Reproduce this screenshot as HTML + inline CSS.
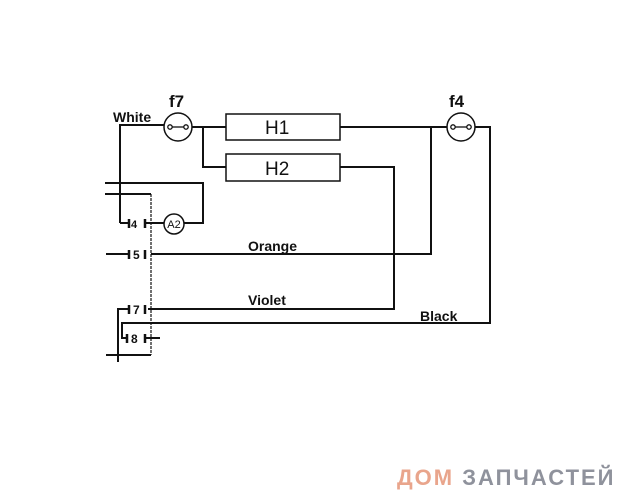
<!DOCTYPE html>
<html><head><meta charset="utf-8"><style>
html,body{margin:0;padding:0;background:#fff;}
svg{display:block;}
text{font-family:"Liberation Sans",Arial,sans-serif;fill:#111;}
</style></head><body>
<svg width="625" height="500" viewBox="0 0 625 500" xmlns="http://www.w3.org/2000/svg">
<g stroke="#111" stroke-width="2" fill="none">
<polyline points="120,223 120,125 164,125"/>
<circle cx="178" cy="127" r="14" stroke-width="1.5"/>
<line x1="192" y1="127" x2="226" y2="127"/>
<polyline points="203,127 203,167 226,167"/>
<rect x="226" y="114" width="114" height="26" stroke-width="1.5"/>
<rect x="226" y="154" width="114" height="27" stroke-width="1.5"/>
<line x1="340" y1="127" x2="447" y2="127"/>
<circle cx="461" cy="127" r="14" stroke-width="1.5"/>
<polyline points="475,127 490,127 490,323 122,323 122,338 128,338"/>
<polyline points="431,127 431,254 151,254"/>
<polyline points="340,167 394,167 394,309 148,309"/>
<polyline points="105,183 203,183 203,223 184,223"/>
<polyline points="105,194 151,194"/>
<line x1="151" y1="194" x2="151" y2="355" stroke-width="1.2" stroke-dasharray="3,1"/>
<line x1="106" y1="355" x2="151" y2="355"/>
<polyline points="118,362 118,309 128,309"/>
<line x1="120" y1="223" x2="128" y2="223"/>
<line x1="106" y1="254" x2="128" y2="254"/>
<line x1="145" y1="223" x2="164" y2="223"/>
<line x1="145" y1="338" x2="160" y2="338"/>
<circle cx="174" cy="224" r="10" stroke-width="1.5"/>
<g stroke-width="2.5">
<line x1="129" y1="219" x2="129" y2="228"/><line x1="145" y1="219" x2="145" y2="228"/>
<line x1="129" y1="250" x2="129" y2="259"/><line x1="145" y1="250" x2="145" y2="259"/>
<line x1="129" y1="305" x2="129" y2="314"/><line x1="145" y1="305" x2="145" y2="314"/>
<line x1="127" y1="334" x2="127" y2="343"/><line x1="145" y1="334" x2="145" y2="343"/>
</g>
</g>
<g stroke="#111" stroke-width="1.3" fill="#fff">
<line x1="170" y1="127" x2="186" y2="127"/>
<circle cx="170" cy="127" r="2.2"/><circle cx="186" cy="127" r="2.2"/>
<line x1="453" y1="127" x2="469" y2="127"/>
<circle cx="453" cy="127" r="2.2"/><circle cx="469" cy="127" r="2.2"/>
</g>
<text x="113" y="122" font-size="14" font-weight="bold">White</text>
<text x="169" y="107" font-size="17" font-weight="bold">f7</text>
<text x="449" y="107" font-size="17" font-weight="bold">f4</text>
<text x="265" y="134" font-size="19">H1</text>
<text x="265" y="175" font-size="19">H2</text>
<text x="248" y="251" font-size="14" font-weight="bold">Orange</text>
<text x="248" y="305" font-size="14" font-weight="bold">Violet</text>
<text x="420" y="321" font-size="14" font-weight="bold">Black</text>
<text x="131" y="228" font-size="11" font-weight="bold">4</text>
<text x="133" y="259" font-size="12" font-weight="bold">5</text>
<text x="133" y="314" font-size="12" font-weight="bold">7</text>
<text x="131" y="343" font-size="12" font-weight="bold">8</text>
<text x="174" y="228" font-size="11" text-anchor="middle">A2</text>
<text x="397" y="485" font-size="22" font-weight="bold" style="fill:#e9a58c;letter-spacing:2px">ДОМ <tspan style="fill:#8f929c">ЗАПЧАСТЕЙ</tspan></text>
</svg>
</body></html>
